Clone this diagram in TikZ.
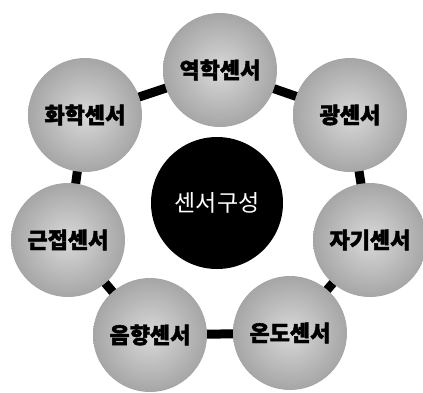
\documentclass[tikz,border=0pt]{standalone}
\usepackage{fontspec}
\newfontfamily\kr{Noto Sans CJK KR}
\newfontfamily\krheavy[FakeBold=2]{Noto Sans CJK KR}
\usetikzlibrary{backgrounds}

\begin{document}
\begin{tikzpicture}[x=1pt, y=-1pt,
  sensor/.style={circle, minimum size=114pt, inner sep=0pt,
    shading=radial, inner color=gray!30, outer color=gray!70,
    font=\krheavy\bfseries\fontsize{22}{26}\selectfont, text=black},
  hub/.style={circle, fill=black, minimum size=132pt, inner sep=0pt,
    font=\kr\fontsize{23}{27}\selectfont, text=white},
  link/.style={line width=9pt, black}]
\useasboundingbox (0,0) rectangle (423,392);
% center
\node[hub] (hub) at (217,203) {센서구성};
% ring of sensors
\node[sensor] (yeok) at (220,70) {역학센서};
\node[sensor] (gwang) at (350,115) {광센서};
\node[sensor] (jagi) at (370,240) {자기센서};
\node[sensor] (ondo) at (290,333) {온도센서};
\node[sensor] (eum) at (150,335) {음향센서};
\node[sensor] (geun) at (68,240) {근접센서};
\node[sensor] (hwa) at (85,115) {화학센서};
% links behind the spheres
\begin{pgfonlayer}{background}
\draw[link] (yeok.center) -- (gwang.center) -- (jagi.center) -- (ondo.center)
  -- (eum.center) -- (geun.center) -- (hwa.center) -- (yeok.center);
\end{pgfonlayer}
\end{tikzpicture}
\end{document}
